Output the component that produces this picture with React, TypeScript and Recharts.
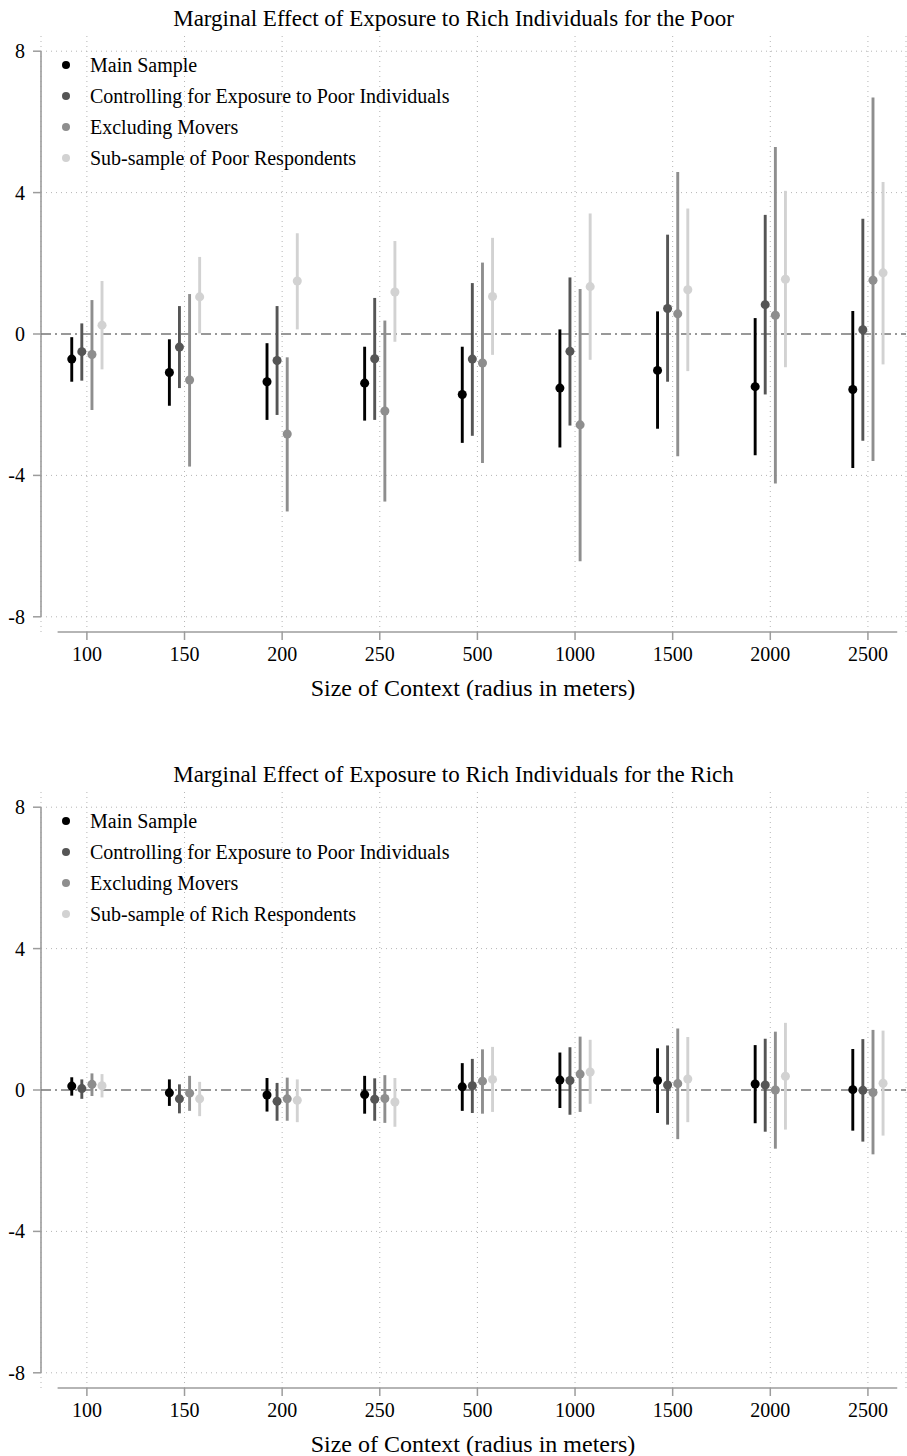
import React from "react";
import {
  CartesianGrid,
  ErrorBar,
  ReferenceLine,
  Scatter,
  ScatterChart,
  XAxis,
  YAxis,
  ZAxis,
} from "recharts";

const CATEGORIES = ["100", "150", "200", "250", "500", "1000", "1500", "2000", "2500"];
const Y_TICKS = [-8, -4, 0, 4, 8];

// Effect for the poor: point estimate, lower and upper bound of the CI
const poorMainEst = [-0.71, -1.09, -1.35, -1.39, -1.71, -1.53, -1.03, -1.49, -1.57];
const poorMainLo = [-1.35, -2.03, -2.43, -2.45, -3.08, -3.21, -2.68, -3.43, -3.79];
const poorMainHi = [-0.09, -0.15, -0.26, -0.36, -0.36, 0.13, 0.64, 0.45, 0.65];

const poorCtrlEst = [-0.5, -0.37, -0.75, -0.7, -0.71, -0.49, 0.72, 0.83, 0.12];
const poorCtrlLo = [-1.32, -1.53, -2.29, -2.43, -2.88, -2.59, -1.35, -1.71, -3.02];
const poorCtrlHi = [0.3, 0.79, 0.79, 1.02, 1.44, 1.6, 2.81, 3.37, 3.26];

const poorExclEst = [-0.58, -1.3, -2.83, -2.18, -0.82, -2.57, 0.57, 0.53, 1.52];
const poorExclLo = [-2.15, -3.75, -5.02, -4.74, -3.65, -6.43, -3.46, -4.23, -3.59];
const poorExclHi = [0.96, 1.13, -0.66, 0.38, 2.02, 1.27, 4.58, 5.29, 6.69];

const poorSubEst = [0.25, 1.05, 1.5, 1.19, 1.06, 1.34, 1.25, 1.55, 1.73];
const poorSubLo = [-1.0, 0.02, 0.13, -0.22, -0.59, -0.73, -1.05, -0.94, -0.86];
const poorSubHi = [1.5, 2.18, 2.85, 2.63, 2.72, 3.41, 3.55, 4.05, 4.3];

// Effect for the rich
const richMainEst = [0.11, -0.08, -0.14, -0.13, 0.09, 0.28, 0.27, 0.17, 0.01];
const richMainLo = [-0.16, -0.45, -0.61, -0.67, -0.59, -0.51, -0.65, -0.94, -1.15];
const richMainHi = [0.36, 0.3, 0.34, 0.4, 0.76, 1.06, 1.18, 1.27, 1.16];

const richCtrlEst = [0.04, -0.25, -0.32, -0.26, 0.12, 0.27, 0.14, 0.14, -0.01];
const richCtrlLo = [-0.25, -0.66, -0.87, -0.87, -0.65, -0.7, -0.98, -1.18, -1.46];
const richCtrlHi = [0.3, 0.16, 0.2, 0.33, 0.88, 1.21, 1.26, 1.45, 1.44];

const richExclEst = [0.16, -0.09, -0.25, -0.24, 0.25, 0.45, 0.18, 0.0, -0.07];
const richExclLo = [-0.17, -0.59, -0.87, -0.93, -0.67, -0.62, -1.39, -1.66, -1.82];
const richExclHi = [0.47, 0.4, 0.35, 0.42, 1.15, 1.51, 1.74, 1.65, 1.7];

const richSubEst = [0.12, -0.25, -0.29, -0.34, 0.3, 0.51, 0.31, 0.39, 0.19];
const richSubLo = [-0.21, -0.74, -0.91, -1.04, -0.62, -0.39, -0.91, -1.12, -1.29];
const richSubHi = [0.45, 0.23, 0.3, 0.34, 1.22, 1.42, 1.5, 1.9, 1.68];

const COLORS = ["#000000", "#555555", "#8e8e8e", "#d2d2d2"];
const OFFSETS = [-0.155, -0.052, 0.052, 0.155];
const FONT = '"Liberation Serif", "Times New Roman", Times, serif';
const AXIS = "#9c9c9c";
const GRID = "#b5b5b5";
const W = 907;
const H = 700;

type Series = { name: string; est: number[]; lo: number[]; hi: number[] };

const poorSeries: Series[] = [
  { name: "Main Sample", est: poorMainEst, lo: poorMainLo, hi: poorMainHi },
  { name: "Controlling for Exposure to Poor Individuals", est: poorCtrlEst, lo: poorCtrlLo, hi: poorCtrlHi },
  { name: "Excluding Movers", est: poorExclEst, lo: poorExclLo, hi: poorExclHi },
  { name: "Sub-sample of Poor Respondents", est: poorSubEst, lo: poorSubLo, hi: poorSubHi },
];

const richSeries: Series[] = [
  { name: "Main Sample", est: richMainEst, lo: richMainLo, hi: richMainHi },
  { name: "Controlling for Exposure to Poor Individuals", est: richCtrlEst, lo: richCtrlLo, hi: richCtrlHi },
  { name: "Excluding Movers", est: richExclEst, lo: richExclLo, hi: richExclHi },
  { name: "Sub-sample of Rich Respondents", est: richSubEst, lo: richSubLo, hi: richSubHi },
];

function toPoints(s: Series, k: number) {
  return s.est.map((v, i) => ({
    x: i + OFFSETS[k],
    y: v,
    err: [v - s.lo[i], s.hi[i] - v],
  }));
}

function EffectPanel({ title, series, top }: { title: string; series: Series[]; top: number }) {
  return (
    <div style={{ position: "absolute", left: 0, top, width: W, height: H }}>
      <ScatterChart width={W} height={H} margin={{ top: 36, right: 1, bottom: 28, left: 0 }}>
        {/* vertical grid only; horizontal grid rows drawn as reference lines at the y ticks */}
        <CartesianGrid stroke={GRID} strokeDasharray="1 4" horizontal={false} />
        <XAxis
          type="number"
          dataKey="x"
          domain={[-0.47, 8.39]}
          allowDataOverflow
          ticks={[0, 1, 2, 3, 4, 5, 6, 7, 8]}
          interval={0}
          tickFormatter={(v: number) => CATEGORIES[Math.round(v)]}
          axisLine={false}
          tickLine={{ stroke: AXIS, strokeWidth: 1.5 }}
          tickSize={8}
          tickMargin={7}
          height={40}
          tick={{ fill: "#000", fontSize: 20, fontFamily: FONT }}
        />
        <YAxis
          type="number"
          dataKey="y"
          domain={[-8.43, 8.43]}
          allowDataOverflow
          ticks={Y_TICKS}
          interval={0}
          axisLine={false}
          tickLine={{ stroke: AXIS, strokeWidth: 1.5 }}
          tickSize={8}
          tickMargin={8}
          width={41}
          tick={{ fill: "#000", fontSize: 20, fontFamily: FONT }}
        />
        <ZAxis range={[70, 70]} />
        {Y_TICKS.filter((t) => t !== 0).map((t) => (
          <ReferenceLine key={t} y={t} stroke={GRID} strokeDasharray="1 4" />
        ))}
        <ReferenceLine
          segment={[{ x: -0.3, y: -8.43 }, { x: 8.3, y: -8.43 }]}
          stroke={AXIS}
          strokeWidth={1.6}
          ifOverflow="visible"
        />
        <ReferenceLine
          segment={[{ x: -0.47, y: -8 }, { x: -0.47, y: 8 }]}
          stroke={AXIS}
          strokeWidth={1.6}
          ifOverflow="visible"
        />
        <ReferenceLine y={0} stroke="#777777" strokeWidth={1.5} strokeDasharray="10 4 2 4" />
        {series.map((s, k) => (
          <Scatter
            key={s.name}
            name={s.name}
            data={toPoints(s, k)}
            fill={COLORS[k]}
            shape="circle"
            isAnimationActive={false}
          >
            <ErrorBar
              dataKey="err"
              direction="y"
              width={0}
              stroke={COLORS[k]}
              strokeWidth={2.9}
              isAnimationActive={false}
            />
          </Scatter>
        ))}
      </ScatterChart>
      <svg
        width={W}
        height={H}
        style={{ position: "absolute", left: 0, top: 0, pointerEvents: "none" }}
        fontFamily={FONT}
      >
        <text x={453.5} y={26} textAnchor="middle" fontSize={23} fill="#000">
          {title}
        </text>
        {series.map((s, k) => (
          <g key={s.name}>
            <circle cx={66} cy={65 + k * 31} r={4} fill={COLORS[k]} />
            <text x={90} y={65 + k * 31 + 7} fontSize={20} fill="#000">
              {s.name}
            </text>
          </g>
        ))}
        <text x={473} y={696} textAnchor="middle" fontSize={24} fill="#000">
          Size of Context (radius in meters)
        </text>
      </svg>
    </div>
  );
}

export default function App() {
  return (
    <div
      style={{
        position: "absolute",
        left: 0,
        top: 0,
        width: W,
        height: 1456,
        background: "#fff",
        fontFamily: FONT,
      }}
    >
      <EffectPanel
        title="Marginal Effect of Exposure to Rich Individuals for the Poor"
        series={poorSeries}
        top={0}
      />
      <EffectPanel
        title="Marginal Effect of Exposure to Rich Individuals for the Rich"
        series={richSeries}
        top={756}
      />
    </div>
  );
}
